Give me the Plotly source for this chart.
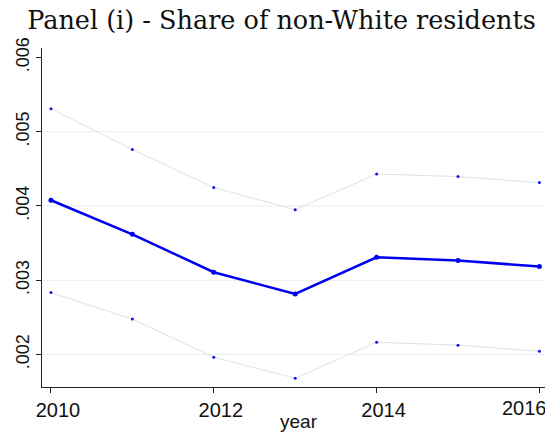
import plotly.graph_objects as go

years = [2010, 2011, 2012, 2013, 2014, 2015, 2016]
estimate = [0.004077, 0.003619, 0.003108, 0.002815, 0.003310, 0.003265, 0.003185]
upper_ci = [0.005310, 0.004761, 0.004248, 0.003951, 0.004430, 0.004396, 0.004315]
lower_ci = [0.002834, 0.002478, 0.001964, 0.001681, 0.002166, 0.002126, 0.002044]

x_ticks = [2010, 2012, 2014, 2016]
x_tick_labels = ["2010", "2012", "2014", "2016"]
y_ticks = [0.002, 0.003, 0.004, 0.005, 0.006]
y_tick_labels = [".002", ".003", ".004", ".005", ".006"]
grid_vals = [0.002, 0.003, 0.004, 0.005]

fig = go.Figure()

# light gridlines (no gridline at the top tick)
for g in grid_vals:
    fig.add_shape(type="line", xref="paper", x0=0, x1=0.996, yref="y", y0=g, y1=g,
                  line=dict(color="#e6eff1", width=1), layer="below")

ci_line = dict(color="#dde2ea", width=1)
ci_marker = dict(color="#1010ee", size=3)
fig.add_trace(go.Scatter(x=years, y=upper_ci, mode="lines+markers", line=ci_line,
                         marker=ci_marker, showlegend=False))
fig.add_trace(go.Scatter(x=years, y=lower_ci, mode="lines+markers", line=ci_line,
                         marker=ci_marker, showlegend=False))
fig.add_trace(go.Scatter(x=years, y=estimate, mode="lines+markers",
                         line=dict(color="#0000f0", width=2.5),
                         marker=dict(color="#0000f0", size=5), showlegend=False))

# last x tick label is pulled inward (as in the reference) so it stays inside the frame
fig.add_annotation(text=x_tick_labels[-1], x=x_ticks[-1], xref="x", yref="paper", y=-0.062,
                   xanchor="right", yanchor="middle", xshift=10, showarrow=False,
                   font=dict(family="Liberation Sans", size=20, color="#111111"))

fig.add_annotation(text="year", xref="paper", yref="paper", x=0.506, y=-0.1018,
                   xanchor="center", yanchor="middle", showarrow=False,
                   font=dict(family="Liberation Sans", size=19, color="#111111"))

fig.update_layout(
    width=545, height=424,
    margin=dict(l=34, r=3, t=40, b=45),
    paper_bgcolor="white", plot_bgcolor="white",
    title=dict(text="Panel (i) - Share of non-White residents",
               font=dict(family="DejaVu Serif", size=25.5, color="#111111"),
               x=0.5018, xref="container", xanchor="center",
               y=0.9725, yref="container", yanchor="middle"),
    xaxis=dict(range=[2009.89, 2016.13], tickvals=x_ticks,
               ticktext=x_tick_labels[:-1] + [""],
               automargin=False, ticklabelshift=7,
               showgrid=False, zeroline=False, showline=True, linecolor="#222222", linewidth=1,
               ticks="outside", ticklen=5, tickcolor="#222222",
               tickfont=dict(family="Liberation Sans", size=20, color="#111111")),
    yaxis=dict(range=[0.001563, 0.006127], tickvals=y_ticks, ticktext=y_tick_labels,
               automargin=False, tickangle=-90, showgrid=False, zeroline=False, showline=True,
               linecolor="#222222", linewidth=1, ticks="outside", ticklen=5, tickcolor="#222222",
               tickfont=dict(family="Liberation Sans", size=18, color="#111111")),
)

fig.write_html("out.html")
